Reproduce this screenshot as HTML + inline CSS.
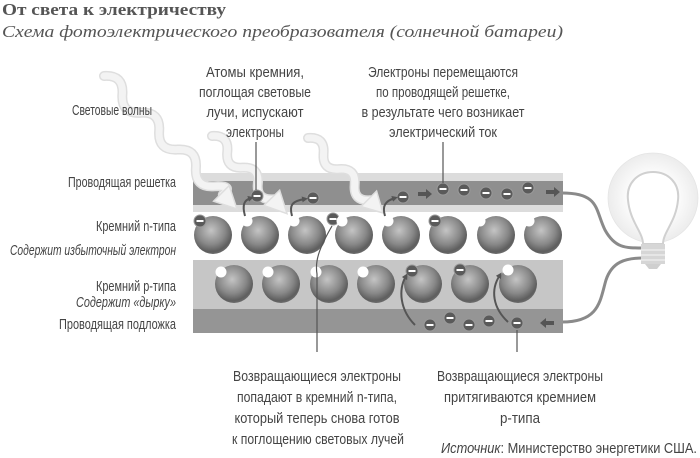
<!DOCTYPE html>
<html><head><meta charset="utf-8"><style>
html,body{margin:0;padding:0;background:#fff;}
svg{display:block}
.t{font-family:"Liberation Sans Narrow","Liberation Sans","DejaVu Sans Condensed",sans-serif;font-size:14.5px;fill:#444}
.i{font-style:italic}
</style></head><body>
<svg width="700" height="458" viewBox="0 0 700 458" xmlns="http://www.w3.org/2000/svg">
<defs>
<radialGradient id="sp" cx="0.45" cy="0.38" r="0.62">
<stop offset="0" stop-color="#c4c4c4"/><stop offset="0.6" stop-color="#888"/><stop offset="0.9" stop-color="#5e5e5e"/><stop offset="1" stop-color="#6a6a6a"/>
</radialGradient>
<radialGradient id="glow" cx="0.5" cy="0.5" r="0.5">
<stop offset="0.6" stop-color="#fafafa"/><stop offset="1" stop-color="#ececec"/>
</radialGradient>
<g id="e"><circle r="6" fill="#5a5a5a" stroke="#9a9a9a" stroke-width="1"/><rect x="-3.5" y="-1" width="7" height="2" fill="#fff"/></g>
<g id="h"><circle r="5.5" fill="#fff"/></g>
<g id="wv"><path d="M0 0 Q13 -15 26 0 T52 0 T78 0 T104 0 T130 0 T156 0 T168 0" fill="none" stroke="#dedede" stroke-width="10" stroke-linecap="round"/><path d="M0 0 Q13 -15 26 0 T52 0 T78 0 T104 0 T130 0 T156 0 T168 0" fill="none" stroke="#f3f3f3" stroke-width="7" stroke-linecap="round"/></g>
<g id="wv2"><path d="M0 0 Q11 -13 22 0 T44 0 T66 0 T88 0" fill="none" stroke="#dedede" stroke-width="10" stroke-linecap="round"/><path d="M0 0 Q11 -13 22 0 T44 0 T66 0 T88 0" fill="none" stroke="#f3f3f3" stroke-width="7" stroke-linecap="round"/></g>
<marker id="ar" markerWidth="6" markerHeight="6" refX="3" refY="3" orient="auto" markerUnits="userSpaceOnUse"><path d="M0 0 L6 3 L0 6 Z" fill="#555"/></marker>
</defs>

<text x="2" y="15" font-family="Liberation Serif,serif" font-weight="bold" font-size="17" fill="#555" textLength="224" lengthAdjust="spacingAndGlyphs">От света к электричеству</text>
<text x="2" y="37" font-family="Liberation Serif,serif" font-style="italic" font-size="17" fill="#555" textLength="561" lengthAdjust="spacingAndGlyphs">Схема фотоэлектрического преобразователя (солнечной батареи)</text>

<circle cx="653" cy="198" r="45" fill="url(#glow)" stroke="#e4e4e4" stroke-width="0.7"/>

<path d="M562 193 C600 193 595 210 605 230 C615 248 625 248 643 248" fill="none" stroke="#8a8a8a" stroke-width="3"/>
<path d="M562 322 C600 322 600 300 606 280 C612 262 625 258 643 258" fill="none" stroke="#8a8a8a" stroke-width="3"/>

<path d="M643 244 C643 232 630 222 628 200 C626 183 638 172 653 172 C668 172 680 183 678 200 C676 222 663 232 663 244 Z" fill="#fff" stroke="#d0d0d0" stroke-width="2"/>
<rect x="641" y="244" width="24" height="20" fill="#d6d6d6"/>
<line x1="641" y1="250" x2="665" y2="250" stroke="#f0f0f0" stroke-width="1.3"/>
<line x1="641" y1="255" x2="665" y2="255" stroke="#f0f0f0" stroke-width="1.3"/>
<line x1="641" y1="260" x2="665" y2="260" stroke="#f0f0f0" stroke-width="1.3"/>
<path d="M645 264 L661 264 L657 269 L649 269 Z" fill="#cfcfcf"/>

<rect x="193" y="173" width="370" height="39" fill="#dcdcdc"/>
<rect x="193" y="181" width="370" height="24" fill="#8f8f8f"/>
<rect x="193" y="260" width="370" height="49" fill="#c6c6c6"/>
<rect x="193" y="309" width="370" height="24" fill="#959595"/>

<g transform="translate(104,76) rotate(45)"><use href="#wv"/><polygon points="166,-11 188,0 166,11" fill="#f3f3f3" stroke="#dedede" stroke-width="1.5"/></g>
<g transform="translate(212,136) rotate(46)"><use href="#wv2"/><polygon points="86,-11 108,0 86,11" fill="#f3f3f3" stroke="#dedede" stroke-width="1.5"/></g>
<g transform="translate(308,138) rotate(45)"><use href="#wv2"/><polygon points="86,-11 106,0 86,11" fill="#f3f3f3" stroke="#dedede" stroke-width="1.5"/></g>

<g class="t" text-anchor="end">
<text x="152" y="115" textLength="80" lengthAdjust="spacingAndGlyphs">Световые волны</text>
<text x="176" y="187" textLength="108" lengthAdjust="spacingAndGlyphs">Проводящая решетка</text>
<text x="176" y="231" textLength="80" lengthAdjust="spacingAndGlyphs">Кремний n-типа</text>
<text x="176" y="255" class="t i" textLength="166" lengthAdjust="spacingAndGlyphs">Содержит избыточный электрон</text>
<text x="176" y="291" textLength="80" lengthAdjust="spacingAndGlyphs">Кремний p-типа</text>
<text x="176" y="307" class="t i" textLength="100" lengthAdjust="spacingAndGlyphs">Содержит «дырку»</text>
<text x="176" y="329" textLength="117" lengthAdjust="spacingAndGlyphs">Проводящая подложка</text>
</g>
<g class="t" text-anchor="middle">
<text x="255" y="77" textLength="98" lengthAdjust="spacingAndGlyphs">Атомы кремния,</text>
<text x="255" y="97" textLength="112" lengthAdjust="spacingAndGlyphs">поглощая световые</text>
<text x="255" y="117" textLength="97" lengthAdjust="spacingAndGlyphs">лучи, испускают</text>
<text x="255" y="137" textLength="58" lengthAdjust="spacingAndGlyphs">электроны</text>
<text x="443" y="77" textLength="150" lengthAdjust="spacingAndGlyphs">Электроны перемещаются</text>
<text x="443" y="97" textLength="134" lengthAdjust="spacingAndGlyphs">по проводящей решетке,</text>
<text x="443" y="117" textLength="163" lengthAdjust="spacingAndGlyphs">в результате чего возникает</text>
<text x="443" y="137" textLength="108" lengthAdjust="spacingAndGlyphs">электрический ток</text>
<text x="317" y="381" textLength="168" lengthAdjust="spacingAndGlyphs">Возвращающиеся электроны</text>
<text x="317" y="402" textLength="160" lengthAdjust="spacingAndGlyphs">попадают в кремний n-типа,</text>
<text x="317" y="423" textLength="165" lengthAdjust="spacingAndGlyphs">который теперь снова готов</text>
<text x="318" y="444" textLength="172" lengthAdjust="spacingAndGlyphs">к поглощению световых лучей</text>
<text x="520" y="381" textLength="166" lengthAdjust="spacingAndGlyphs">Возвращающиеся электроны</text>
<text x="520" y="402" textLength="152" lengthAdjust="spacingAndGlyphs">притягиваются кремнием</text>
<text x="520" y="423" textLength="40" lengthAdjust="spacingAndGlyphs">p-типа</text>
</g>
<text x="441" y="453" class="t" textLength="256" lengthAdjust="spacingAndGlyphs"><tspan class="i">Источник</tspan>: Министерство энергетики США.</text>

<g fill="url(#sp)">
<circle cx="213" cy="235" r="19"/><circle cx="260" cy="235" r="19"/><circle cx="307" cy="235" r="19"/><circle cx="354" cy="235" r="19"/>
<circle cx="401" cy="235" r="19"/><circle cx="448" cy="235" r="19"/><circle cx="496" cy="235" r="19"/><circle cx="543" cy="235" r="19"/>
<circle cx="234" cy="284" r="19"/><circle cx="281" cy="284" r="19"/><circle cx="329" cy="284" r="19"/><circle cx="376" cy="284" r="19"/>
<circle cx="423" cy="284" r="19"/><circle cx="470" cy="284" r="19"/><circle cx="518" cy="284" r="19"/>
</g>

<use href="#e" x="200" y="221"/>
<use href="#h" x="247" y="221"/><use href="#h" x="294" y="221"/>
<use href="#e" x="333" y="219"/>
<use href="#h" x="342" y="221"/><use href="#h" x="388" y="221"/>
<use href="#e" x="435" y="221"/>
<use href="#h" x="480" y="221"/><use href="#h" x="529" y="221"/>

<use href="#h" x="221" y="272"/><use href="#h" x="268" y="272"/><use href="#h" x="316" y="272"/><use href="#h" x="363" y="272"/>
<use href="#e" x="412" y="271"/><use href="#e" x="460" y="270"/><use href="#h" x="508" y="270"/>

<use href="#e" x="257" y="196"/><use href="#e" x="313" y="198"/><use href="#e" x="403" y="197"/>
<use href="#e" x="443" y="189"/><use href="#e" x="464" y="190"/><use href="#e" x="486" y="193"/><use href="#e" x="507" y="194"/><use href="#e" x="528" y="188"/>
<path d="M418 192 h8 v-3 l6 5 l-6 5 v-3 h-8 Z" fill="#555"/>
<path d="M546 190 h8 v-3 l6 5 l-6 5 v-3 h-8 Z" fill="#555"/>
<use href="#e" x="430" y="325"/><use href="#e" x="450" y="318"/><use href="#e" x="469" y="325"/><use href="#e" x="489" y="321"/><use href="#e" x="517" y="323"/>
<path d="M554 321 h-8 v-3 l-6 5 l6 5 v-3 h8 Z" fill="#555"/>

<g fill="none" stroke="#555" stroke-width="2" marker-end="url(#ar)">
<path d="M245 216 C242 205 244 200 251 198"/>
<path d="M292 216 C289 205 292 201 305 199"/>
<path d="M385 216 C382 206 385 201 395 198"/>
<path d="M415 325 C400 310 398 290 406 276"/>
<path d="M508 322 C493 308 490 290 500 275"/>
</g>
<g stroke="#555" stroke-width="1.2" fill="none">
<line x1="256" y1="142" x2="256" y2="190"/>
<line x1="443" y1="142" x2="443" y2="183"/>
<path d="M317 352 L317 274 C315 262 318 250 332 226"/>
<line x1="517" y1="330" x2="517" y2="352"/>
</g>
</svg>
</body></html>
